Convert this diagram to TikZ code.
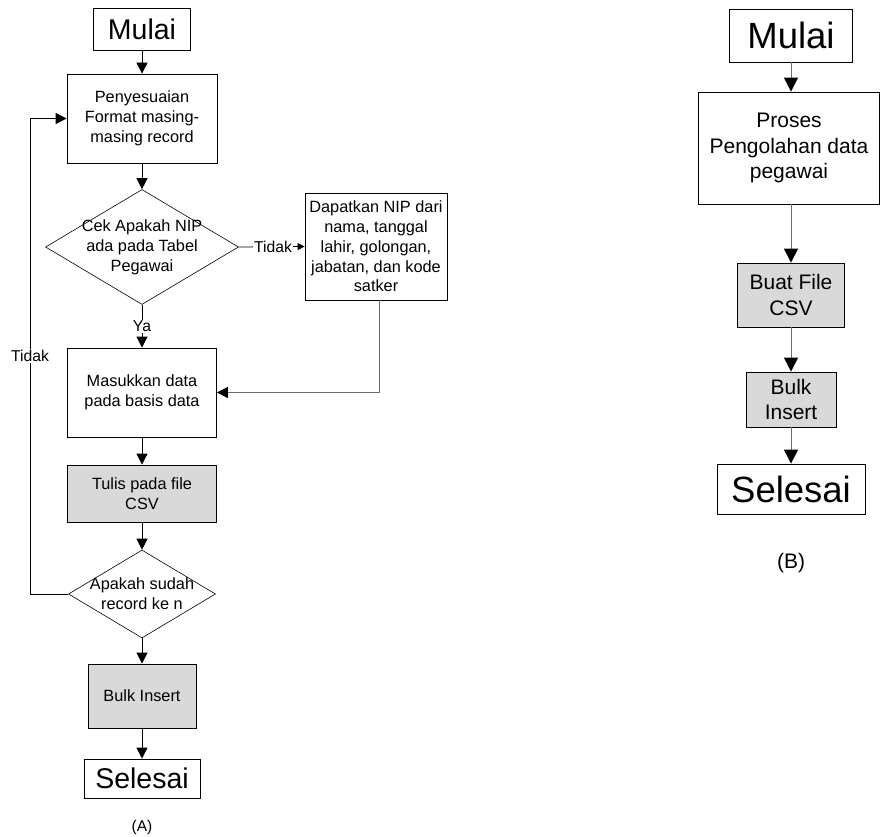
\documentclass[tikz,border=0pt]{standalone}
\usepackage{fontspec}
\setmainfont{Liberation Sans}
\usetikzlibrary{arrows.meta, positioning, shapes.geometric}
\definecolor{stepfill}{HTML}{D9D9D9}
\definecolor{linegray}{HTML}{6E6E6E}

\begin{document}
\begin{tikzpicture}[
    x=1pt, y=-1pt,
    box/.style={draw, line width=0.8pt, inner sep=0pt, align=center,
        font=\fontsize{16.3}{19.8}\selectfont},
    greybox/.style={box, fill=stepfill},
    term/.style={box, font=\fontsize{28.5}{34}\selectfont},
    decision/.style={draw, diamond, inner sep=0pt, line width=0.6pt},
    dtext/.style={font=\fontsize{16.3}{19.8}\selectfont, align=center, inner sep=0pt},
    lbl/.style={font=\fontsize{15.7}{19}\selectfont, fill=white, inner sep=1pt},
    boxB/.style={box, font=\fontsize{21}{25.5}\selectfont},
    greyboxB/.style={boxB, fill=stepfill},
    termB/.style={box, font=\fontsize{36.5}{43}\selectfont},
    arrow/.style={-{Triangle[length=11pt, width=11pt]}, line width=0.8pt},
    arrowB/.style={-{Triangle[length=14pt, width=14pt, color=black]}, line width=1pt, draw=linegray},
]
\useasboundingbox (0, 0) rectangle (880, 837);

% ============================================================
%  (A) Detailed flow
% ============================================================
\node[term, minimum width=97pt, minimum height=42pt] (mulaiA) at (142, 29) {Mulai};

\node[box, minimum width=150pt, minimum height=89pt] (format) at (142, 118.5)
    {Penyesuaian\\Format masing-\\masing record};

\node[decision, minimum width=193pt, minimum height=115pt,
    label={[dtext]center:{Cek Apakah NIP\\ada pada Tabel\\Pegawai}}] (cekNIP) at (142, 247) {};

\node[box, minimum width=142pt, minimum height=107pt] (getNIP) at (376, 246.5)
    {Dapatkan NIP dari\\nama, tanggal\\lahir, golongan,\\jabatan, dan kode\\satker};

\node[box, minimum width=149pt, minimum height=89pt] (insertDB) at (142, 392.5)
    {Masukkan data\\pada basis data};

\node[greybox, minimum width=149pt, minimum height=57pt] (writeCSV) at (142, 493.5)
    {Tulis pada file\\CSV};

\node[decision, minimum width=147pt, minimum height=88pt,
    label={[dtext]center:{Apakah sudah\\record ke n}}] (lastRec) at (142, 594) {};

\node[greybox, minimum width=108pt, minimum height=64pt] (bulkA) at (142, 696) {Bulk Insert};

\node[term, minimum width=116pt, minimum height=39pt] (selesaiA) at (142, 778.5) {Selesai};

\node[font=\fontsize{15.5}{18}\selectfont] (capA) at (142, 827) {(A)};

\coordinate (backX) at (30, 0);

\draw[arrow] (mulaiA) -- (format);
\draw[arrow] (format) -- (cekNIP);
\draw[arrow] (cekNIP) -- node[lbl] {Ya} (insertDB);
\draw[-{Triangle[length=7pt, width=7pt]}, line width=0.8pt] (cekNIP.east) -- node[lbl, pos=0.52] {Tidak} (getNIP.west);
\draw[arrow, draw=linegray, -{Triangle[length=11pt, width=11pt, color=black]}] (getNIP.south -| 379, 0) |- (insertDB.east);
\draw[arrow] (insertDB) -- (writeCSV);
\draw[arrow] (writeCSV) -- (lastRec);
\draw[arrow] (lastRec) -- (bulkA);
\draw[arrow] (bulkA) -- (selesaiA);
\draw[arrow] (lastRec.west) -- (lastRec.west -| backX) |- node[lbl, pos=0.25] {Tidak} (format.west);

% ============================================================
%  (B) Simple flow
% ============================================================
\node[termB, minimum width=123pt, minimum height=53pt] (mulaiB) at (791, 35.5) {Mulai};

\node[boxB, minimum width=181pt, minimum height=112pt] (proses) at (789, 148)
    {Proses\\Pengolahan data\\pegawai};

\node[greyboxB, minimum width=107pt, minimum height=64pt] (buatCSV) at (791, 295)
    {Buat File\\CSV};

\node[greyboxB, minimum width=90pt, minimum height=55pt] (bulkB) at (791, 399.5)
    {Bulk\\Insert};

\node[termB, minimum width=148pt, minimum height=50pt] (selesaiB) at (791, 489) {Selesai};

\node[font=\fontsize{21}{25}\selectfont] (capB) at (791, 563) {(B)};

\draw[arrowB] (mulaiB) -- (mulaiB |- proses.north);
\draw[arrowB] (proses.south -| mulaiB) -- (buatCSV);
\draw[arrowB] (buatCSV) -- (bulkB);
\draw[arrowB] (bulkB) -- (selesaiB);

\end{tikzpicture}
\end{document}
